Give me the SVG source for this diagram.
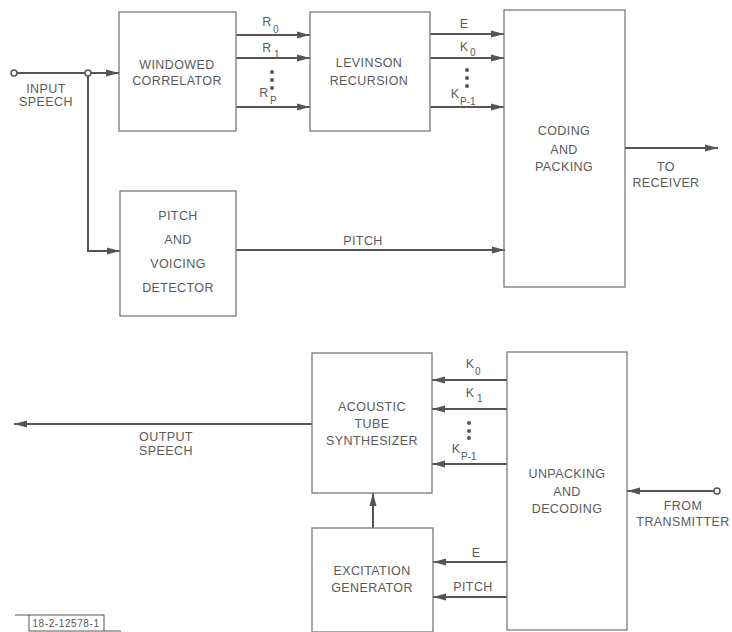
<svg xmlns="http://www.w3.org/2000/svg" width="732" height="632" viewBox="0 0 732 632">
<style>
.box{fill:none;stroke:#7a7a7a;stroke-width:1.3}
.ln{fill:none;stroke:#555;stroke-width:2}
.t{font-family:"Liberation Sans",Arial,sans-serif;font-size:12.5px;fill:#5a5a5a;text-anchor:middle;letter-spacing:0.4px}
.s{font-family:"Liberation Sans",Arial,sans-serif;font-size:10px;fill:#5a5a5a;text-anchor:start}
.dot{fill:#555}
.term{fill:#fff;stroke:#555;stroke-width:1.5}
</style>
<defs>
<marker id="ah" markerUnits="userSpaceOnUse" markerWidth="14" markerHeight="8" refX="13" refY="4" orient="auto">
<path d="M0,0.5 L13,4 L0,7.5 z" fill="#555"/>
</marker>
</defs>
<rect width="732" height="632" fill="#fff"/>
<g id="connectors">
<line class="ln" x1="17" y1="73" x2="85" y2="73"/>
<line class="ln" x1="91" y1="73" x2="119" y2="73" marker-end="url(#ah)"/>
<polyline class="ln" points="88,76 88,251 120,251" marker-end="url(#ah)"/>
<line class="ln" x1="236" y1="35" x2="310" y2="35" marker-end="url(#ah)"/>
<line class="ln" x1="236" y1="58" x2="310" y2="58" marker-end="url(#ah)"/>
<line class="ln" x1="236" y1="107" x2="310" y2="107" marker-end="url(#ah)"/>
<line class="ln" x1="430" y1="34" x2="504" y2="34" marker-end="url(#ah)"/>
<line class="ln" x1="430" y1="58" x2="504" y2="58" marker-end="url(#ah)"/>
<line class="ln" x1="430" y1="107" x2="504" y2="107" marker-end="url(#ah)"/>
<line class="ln" x1="236" y1="250" x2="505" y2="250" marker-end="url(#ah)"/>
<line class="ln" x1="625" y1="148" x2="718" y2="148" marker-end="url(#ah)"/>
<line class="ln" x1="507" y1="380" x2="432" y2="380" marker-end="url(#ah)"/>
<line class="ln" x1="507" y1="409" x2="432" y2="409" marker-end="url(#ah)"/>
<line class="ln" x1="507" y1="464" x2="432" y2="464" marker-end="url(#ah)"/>
<line class="ln" x1="312" y1="424" x2="14" y2="424" marker-end="url(#ah)"/>
<line class="ln" x1="373" y1="528" x2="373" y2="493" marker-end="url(#ah)"/>
<line class="ln" x1="507" y1="562" x2="433" y2="562" marker-end="url(#ah)"/>
<line class="ln" x1="507" y1="597" x2="433" y2="597" marker-end="url(#ah)"/>
<line class="ln" x1="714" y1="491" x2="627" y2="491" marker-end="url(#ah)"/>
<circle class="term" cx="14" cy="73" r="3"/>
<circle class="term" cx="88" cy="73" r="3"/>
<circle class="term" cx="717" cy="491" r="3"/>
</g>
<g id="labels">
<text class="t" x="46" y="93">INPUT</text>
<text class="t" x="46" y="106">SPEECH</text>
<text class="t" x="267" y="26">R</text><text class="s" x="273" y="33">0</text>
<text class="t" x="267" y="52">R</text><text class="s" x="274" y="58">1</text>
<circle class="dot" cx="272" cy="72" r="2"/><circle class="dot" cx="272" cy="80" r="2"/><circle class="dot" cx="272" cy="88" r="2"/>
<text class="t" x="264" y="97">R</text><text class="s" x="270" y="104">P</text>
<text class="t" x="464" y="28">E</text>
<text class="t" x="464" y="51">K</text><text class="s" x="470" y="56">0</text>
<circle class="dot" cx="467" cy="70" r="2"/><circle class="dot" cx="467" cy="78" r="2"/><circle class="dot" cx="467" cy="86" r="2"/>
<text class="t" x="455" y="98">K</text><text class="s" x="460" y="105">P-1</text>
<text class="t" x="363" y="245">PITCH</text>
<text class="t" x="666" y="171">TO</text>
<text class="t" x="666" y="187">RECEIVER</text>
<text class="t" x="470" y="368">K</text><text class="s" x="475" y="375">0</text>
<text class="t" x="470" y="397">K</text><text class="s" x="477" y="402">1</text>
<circle class="dot" cx="469" cy="423" r="2"/><circle class="dot" cx="469" cy="431" r="2"/><circle class="dot" cx="469" cy="438" r="2"/>
<text class="t" x="456" y="453">K</text><text class="s" x="461" y="460">P-1</text>
<text class="t" x="166" y="441">OUTPUT</text>
<text class="t" x="166" y="455">SPEECH</text>
<text class="t" x="476" y="557">E</text>
<text class="t" x="473" y="591">PITCH</text>
<text class="t" x="683" y="510">FROM</text>
<text class="t" x="683" y="526">TRANSMITTER</text>
</g>
<g id="windowed-correlator">
<rect class="box" x="119" y="12" width="117" height="119"/>
<text class="t" x="177" y="69">WINDOWED</text>
<text class="t" x="177" y="85">CORRELATOR</text>
</g>
<g id="levinson-recursion">
<rect class="box" x="310" y="12" width="120" height="119"/>
<text class="t" x="369" y="67">LEVINSON</text>
<text class="t" x="369" y="85">RECURSION</text>
</g>
<g id="coding-and-packing">
<rect class="box" x="504" y="10" width="121" height="277"/>
<text class="t" x="564" y="135">CODING</text>
<text class="t" x="564" y="154">AND</text>
<text class="t" x="564" y="171">PACKING</text>
</g>
<g id="pitch-and-voicing-detector">
<rect class="box" x="120" y="191" width="116" height="125"/>
<text class="t" x="178" y="220">PITCH</text>
<text class="t" x="178" y="244">AND</text>
<text class="t" x="178" y="268">VOICING</text>
<text class="t" x="178" y="292">DETECTOR</text>
</g>
<g id="acoustic-tube-synthesizer">
<rect class="box" x="312" y="353" width="120" height="140"/>
<text class="t" x="372" y="411">ACOUSTIC</text>
<text class="t" x="372" y="428">TUBE</text>
<text class="t" x="372" y="445">SYNTHESIZER</text>
</g>
<g id="unpacking-and-decoding">
<rect class="box" x="507" y="352" width="120" height="278"/>
<text class="t" x="567" y="478">UNPACKING</text>
<text class="t" x="567" y="496">AND</text>
<text class="t" x="567" y="513">DECODING</text>
</g>
<g id="excitation-generator">
<rect class="box" x="312" y="528" width="121" height="104"/>
<text class="t" x="372" y="575">EXCITATION</text>
<text class="t" x="372" y="592">GENERATOR</text>
</g>
<g id="figure-number">
<line x1="15" y1="615" x2="29" y2="615" stroke="#555" stroke-width="1"/>
<rect x="29" y="615" width="75" height="16" fill="none" stroke="#555" stroke-width="1"/>
<line x1="104" y1="631" x2="121" y2="631" stroke="#555" stroke-width="1"/>
<text x="66" y="627" style="font-family:'Liberation Sans',Arial,sans-serif;font-size:10px;letter-spacing:0.6px;fill:#555;text-anchor:middle">18-2-12578-1</text>
</g>
</svg>
